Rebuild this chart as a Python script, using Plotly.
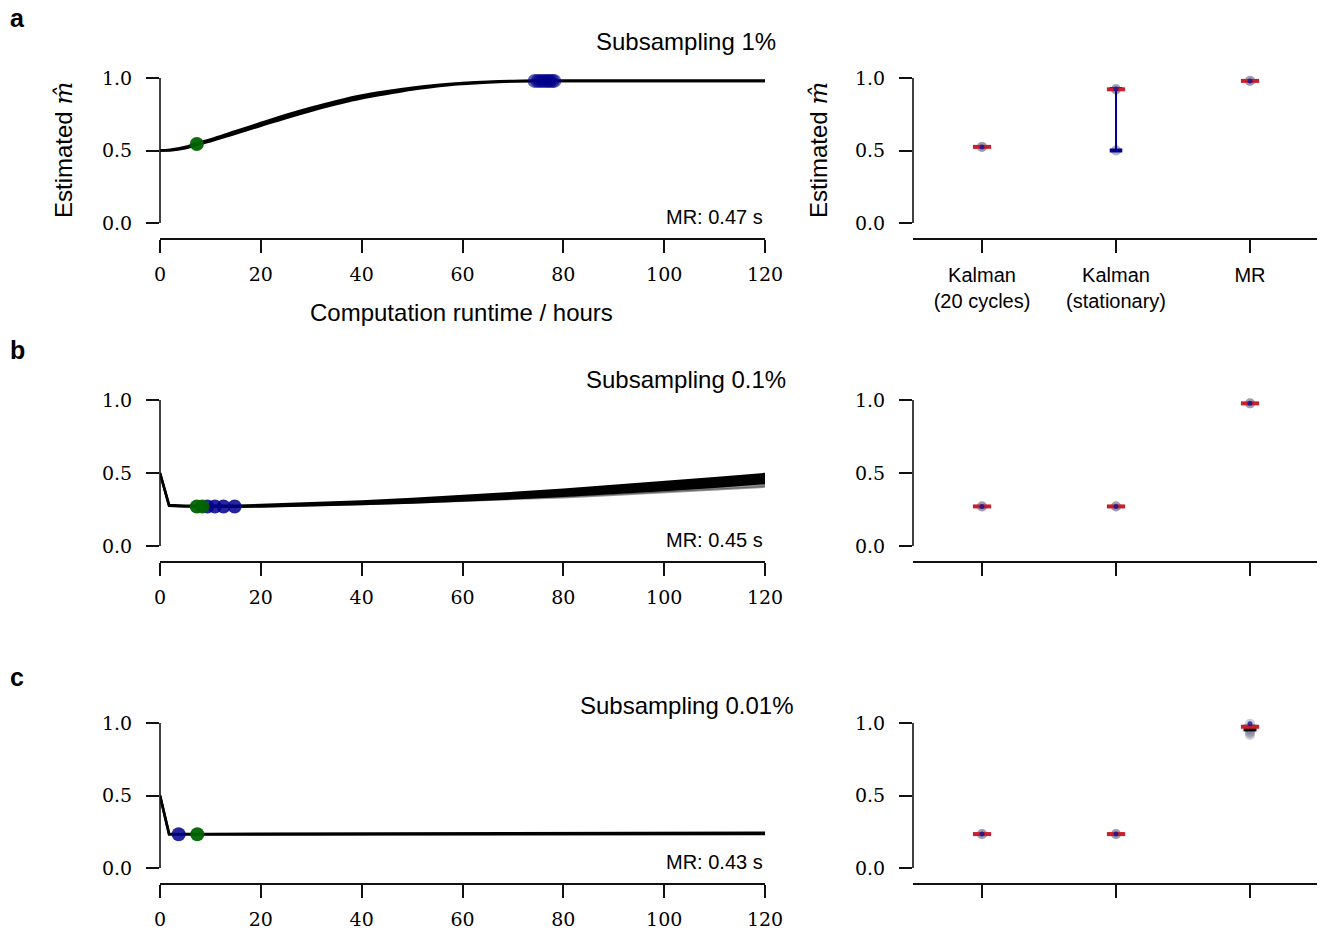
import plotly.graph_objects as go

W, H = 1320, 933

# ---------------- data ----------------
hours_a = [0, 2, 5, 7.3, 10, 15, 20, 25, 30, 35, 40, 45, 50, 55, 60, 65, 70, 75, 80, 90, 100, 110, 120]
upper_a = [0.500, 0.505, 0.524, 0.550, 0.576, 0.633, 0.689, 0.745, 0.795, 0.840, 0.879, 0.908, 0.933,
           0.952, 0.965, 0.974, 0.979, 0.980, 0.980, 0.980, 0.980, 0.980, 0.980]
lower_a = [0.500, 0.501, 0.516, 0.540, 0.564, 0.617, 0.671, 0.725, 0.775, 0.820, 0.861, 0.892, 0.921,
           0.944, 0.959, 0.970, 0.977, 0.980, 0.980, 0.980, 0.980, 0.980, 0.980]

hours_b = [0, 1.8, 5, 10, 15, 20, 30, 40, 50, 60, 70, 80, 90, 100, 110, 120]
upper_b = [0.500, 0.280, 0.276, 0.275, 0.276, 0.280, 0.291, 0.305, 0.322, 0.341, 0.362, 0.385, 0.410, 0.436, 0.463, 0.492]
lower_b = [0.500, 0.276, 0.271, 0.269, 0.269, 0.271, 0.278, 0.288, 0.299, 0.312, 0.327, 0.344, 0.363, 0.384, 0.407, 0.432]
faint_b = [0.500, 0.276, 0.271, 0.269, 0.269, 0.271, 0.277, 0.286, 0.296, 0.307, 0.319, 0.333, 0.349, 0.366, 0.385, 0.405]

hours_c = [0, 1.8, 10, 30, 60, 90, 120]
upper_c = [0.500, 0.236, 0.235, 0.236, 0.238, 0.240, 0.242]
lower_c = [0.500, 0.232, 0.232, 0.232, 0.232, 0.233, 0.234]

green_a_h = [7.3]
green_a_m = [0.545]
blue_a_h = [74.3, 74.9, 75.4, 75.9, 76.4, 76.9, 77.3, 77.8, 78.2]
blue_a_m = [0.980, 0.980, 0.980, 0.980, 0.980, 0.980, 0.980, 0.980, 0.980]

green_b_h = [7.3, 8.4]
green_b_m = [0.271, 0.271]
blue_b_h = [9.4, 10.9, 12.6, 14.8]
blue_b_m = [0.271, 0.271, 0.271, 0.271]

green_c_h = [7.4]
green_c_m = [0.233]
blue_c_h = [3.7]
blue_c_m = [0.233]

mr_times = ["MR: 0.47 s", "MR: 0.45 s", "MR: 0.43 s"]
titles = ["Subsampling 1%", "Subsampling 0.1%", "Subsampling 0.01%"]
panel_letters = ["a", "b", "c"]

categories = ["Kalman<br>(20 cycles)", "Kalman<br>(stationary)", "MR"]

# right panels: median, min, max, points per category
med_a = [0.525, 0.922, 0.980]
min_a = [0.525, 0.500, 0.980]
max_a = [0.525, 0.924, 0.980]
pts_a = [[0.524, 0.525, 0.526], [0.920, 0.922, 0.924, 0.500, 0.501], [0.979, 0.980, 0.981]]

med_b = [0.271, 0.271, 0.977]
min_b = [0.271, 0.271, 0.977]
max_b = [0.271, 0.271, 0.977]
pts_b = [[0.270, 0.271, 0.272], [0.270, 0.271, 0.272], [0.976, 0.977, 0.978]]

med_c = [0.234, 0.234, 0.974]
min_c = [0.234, 0.234, 0.935]
max_c = [0.234, 0.234, 0.994]
q1_c = [None, None, 0.942]
q3_c = [None, None, 0.988]
pts_c = [[0.233, 0.234, 0.235], [0.233, 0.234, 0.235],
         [0.994, 0.960, 0.950, 0.940, 0.930, 0.918]]

x_ticks = [0, 20, 40, 60, 80, 100, 120]
y_ticks = [0.0, 0.5, 1.0]
y_ticktext = ["0.0", "0.5", "1.0"]

# ---------------- style ----------------
SANS = "Liberation Sans, Arial, sans-serif"
SERIF = "DejaVu Serif, serif"
NAVY = "rgba(0,0,139,0.62)"
NAVY_DARK = "rgba(0,0,139,0.85)"
GREEN = "rgba(0,100,0,0.95)"
RED = "#c8202c"
AXC = "#111111"
LW = 1.6

rows_px = [(78, 223), (400, 546), (723, 868)]  # pixel of 1.0, pixel of 0.0
OFF = 15
TOPPAD = 8

left_dom = [160 / W, 765 / W]
right_dom = [913 / W, 1317 / W]

fig = go.Figure()
layout = dict(
    template="none",
    width=W, height=H, margin=dict(l=0, r=0, t=0, b=0, pad=0, autoexpand=False),
    plot_bgcolor="white", paper_bgcolor="white", showlegend=False,
    font=dict(family=SANS, color="black"),
)
shapes = []
annotations = []

lines_data = [
    (hours_a, upper_a, lower_a, None, "spline"),
    (hours_b, upper_b, lower_b, faint_b, "linear"),
    (hours_c, upper_c, lower_c, None, "linear"),
]
dots = [
    (green_a_h, green_a_m, blue_a_h, blue_a_m, NAVY),
    (green_b_h, green_b_m, blue_b_h, blue_b_m, NAVY_DARK),
    (green_c_h, green_c_m, blue_c_h, blue_c_m, NAVY_DARK),
]
right_data = [
    (med_a, min_a, max_a, pts_a, None, None),
    (med_b, min_b, max_b, pts_b, None, None),
    (med_c, min_c, max_c, pts_c, q1_c, q3_c),
]


def ax_id(n):
    return "" if n == 1 else str(n)


for r in range(3):
    y1p, y0p = rows_px[r]
    s = y0p - y1p
    lo = -OFF / s
    hi = 1 + TOPPAD / s
    dom = [1 - (y0p + OFF) / H, 1 - (y1p - TOPPAD) / H]
    nl, nr = 2 * r + 1, 2 * r + 2
    xl, yl = "x" + ax_id(nl), "y" + ax_id(nl)
    xr, yr = "x" + ax_id(nr), "y" + ax_id(nr)

    common_tick = dict(ticks="outside", ticklen=13, tickwidth=LW, tickcolor=AXC, automargin=False,
                       showgrid=False, zeroline=False, fixedrange=True)
    layout["xaxis" + ax_id(nl)] = dict(
        domain=left_dom, range=[0, 120], anchor=yl, showline=True, linecolor=AXC, linewidth=LW,
        tickvals=x_ticks, ticktext=[str(v) for v in x_ticks],
        tickfont=dict(family=SERIF, size=19, color="black"), ticklabelstandoff=5, **common_tick)
    layout["yaxis" + ax_id(nl)] = dict(
        domain=dom, range=[lo, hi], anchor=xl, showline=False,
        tickvals=y_ticks, ticktext=y_ticktext,
        tickfont=dict(family=SERIF, size=19, color="black"), ticklabelstandoff=10, **common_tick)
    layout["xaxis" + ax_id(nr)] = dict(
        domain=right_dom, range=[-0.515, 2.5], anchor=yr, showline=True, linecolor=AXC, linewidth=LW,
        tickvals=[0, 1, 2], ticktext=categories if r == 0 else ["", "", ""],
        tickfont=dict(family=SANS, size=20, color="black"), ticklabelstandoff=5, **common_tick)
    layout["yaxis" + ax_id(nr)] = dict(
        domain=dom, range=[lo, hi], anchor=xr, showline=False,
        tickvals=y_ticks, ticktext=y_ticktext,
        tickfont=dict(family=SERIF, size=19, color="black"), ticklabelstandoff=10, **common_tick)

    # y spines (only from 0 to 1), placed in paper x so they are not clipped
    shapes.append(dict(type="line", xref="paper", yref=yl, x0=left_dom[0], x1=left_dom[0], y0=0, y1=1,
                       line=dict(color=AXC, width=LW)))
    shapes.append(dict(type="line", xref="paper", yref=yr, x0=right_dom[0], x1=right_dom[0], y0=0, y1=1,
                       line=dict(color=AXC, width=LW)))

    # ---- left: runs ----
    hrs, up, low, faint, shp = lines_data[r]
    if faint is not None:
        fig.add_trace(go.Scatter(x=hrs, y=faint, mode="lines", xaxis=xl, yaxis=yl, line_shape=shp,
                                 line=dict(color="rgba(60,60,60,0.55)", width=2)))
        fig.add_trace(go.Scatter(x=hrs, y=low, mode="lines", xaxis=xl, yaxis=yl, line_shape=shp,
                                 line=dict(color="rgba(60,60,60,0.5)", width=0.1),
                                 fill="tonexty", fillcolor="rgba(70,70,70,0.6)"))
    fig.add_trace(go.Scatter(x=hrs, y=low, mode="lines", xaxis=xl, yaxis=yl, line_shape=shp,
                             line=dict(color="black", width=2.6)))
    fig.add_trace(go.Scatter(x=hrs, y=up, mode="lines", xaxis=xl, yaxis=yl, line_shape=shp,
                             line=dict(color="black", width=2.6), fill="tonexty", fillcolor="black"))
    gh, gm, bh, bm, bcol = dots[r]
    fig.add_trace(go.Scatter(x=bh, y=bm, mode="markers", xaxis=xl, yaxis=yl, cliponaxis=False,
                             marker=dict(size=14, color=bcol, line=dict(width=0))))
    fig.add_trace(go.Scatter(x=gh, y=gm, mode="markers", xaxis=xl, yaxis=yl, cliponaxis=False,
                             marker=dict(size=14, color=GREEN, line=dict(width=0))))

    # ---- right: summary ----
    med, mn, mx, pts, q1, q3 = right_data[r]
    px, py = [], []
    for i, vals in enumerate(pts):
        for v in vals:
            px.append(i)
            py.append(v)
    fig.add_trace(go.Scatter(x=px, y=py, mode="markers", xaxis=xr, yaxis=yr, cliponaxis=False,
                             marker=dict(size=10, color="rgba(120,120,150,0.35)", line=dict(width=0))))
    for i in range(3):
        if q1 is not None and q1[i] is not None:
            fig.add_trace(go.Scatter(x=[i, i], y=[q1[i], q3[i]], mode="lines", xaxis=xr, yaxis=yr,
                                     line=dict(color="black", width=13)))
        elif mx[i] > mn[i]:
            fig.add_trace(go.Scatter(x=[i, i], y=[mn[i], mx[i]], mode="lines", xaxis=xr, yaxis=yr,
                                     line=dict(color="#0000a0", width=2)))
            fig.add_trace(go.Scatter(x=[i, i], y=[mn[i], mx[i]], mode="markers", xaxis=xr, yaxis=yr,
                                     cliponaxis=False,
                                     marker=dict(symbol="line-ew", size=9, line=dict(color="#00008b", width=4))))
    fig.add_trace(go.Scatter(x=[0, 1, 2], y=med, mode="markers", xaxis=xr, yaxis=yr, cliponaxis=False,
                             marker=dict(symbol="line-ew", size=13, line=dict(color=RED, width=4))))
    fig.add_trace(go.Scatter(x=[0, 1, 2], y=mx, mode="markers", xaxis=xr, yaxis=yr, cliponaxis=False,
                             marker=dict(size=5, color="rgba(20,20,150,0.8)", line=dict(width=0))))

    # texts
    annotations.append(dict(text=titles[r], x=686 / W, y=1 - [42, 379, 705][r] / H, xref="paper", yref="paper",
                            xanchor="center", yanchor="middle", showarrow=False,
                            font=dict(family=SANS, size=24, color="black")))
    annotations.append(dict(text=mr_times[r], x=765 / W, y=1 - (y0p - 6) / H, xref="paper", yref="paper",
                            xanchor="right", yanchor="middle", showarrow=False,
                            font=dict(family=SANS, size=20, color="black")))
    annotations.append(dict(text="<b>%s</b>" % panel_letters[r], x=8 / W, y=1 - [18, 350, 677][r] / H,
                            xref="paper", yref="paper", xanchor="left", yanchor="middle", showarrow=False,
                            font=dict(family=SANS, size=25, color="black")))

ytitle = "Estimated <span style=\"font-family:'DejaVu Serif'\"><i>m\u0302</i></span>"
for xp in (64, 819):
    annotations.append(dict(text=ytitle, x=xp / W, y=1 - 150 / H, xref="paper", yref="paper",
                            xanchor="center", yanchor="middle", textangle=-90, showarrow=False,
                            font=dict(family=SANS, size=24, color="black")))
annotations.append(dict(text="Computation runtime / hours", x=462 / W, y=1 - 312 / H, xref="paper", yref="paper",
                        xanchor="center", yanchor="middle", showarrow=False,
                        font=dict(family=SANS, size=24, color="black")))

layout["shapes"] = shapes
layout["annotations"] = annotations
fig.update_layout(**layout)

post = ("document.documentElement.style.margin='0';document.body.style.margin='0';"
        "document.documentElement.style.overflow='hidden';document.body.style.overflow='hidden';")
fig.write_html("out.html", post_script=post, config={"displayModeBar": False})
